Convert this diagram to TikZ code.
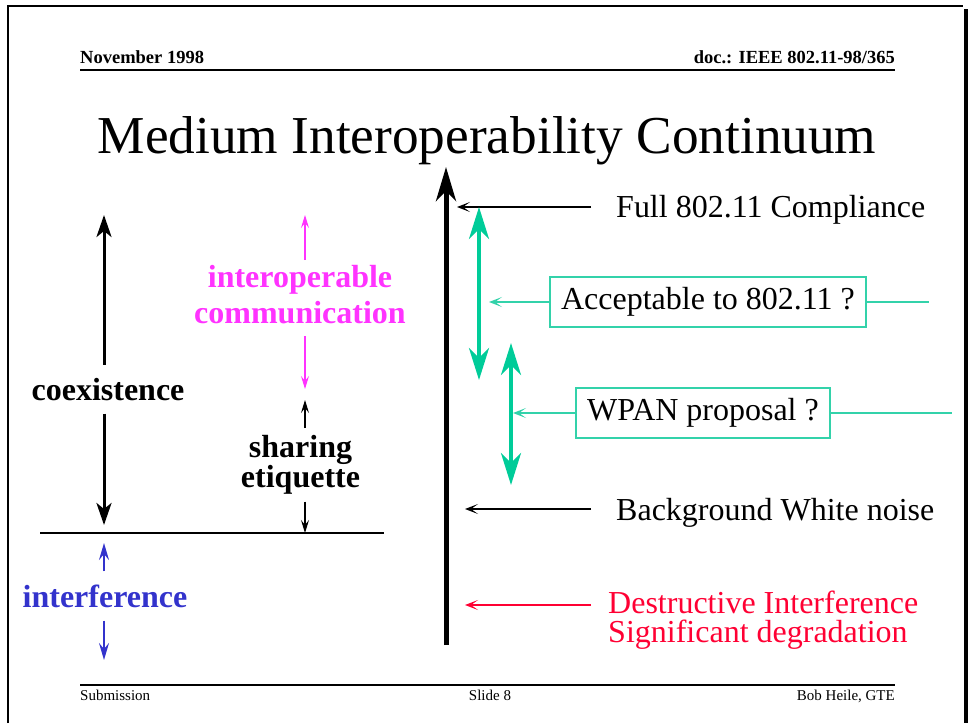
\documentclass[tikz,border=0pt]{standalone}
\usepackage{fontspec}
\setmainfont{Liberation Serif}
\usetikzlibrary{arrows.meta,positioning}
\definecolor{ieeegreen}{RGB}{0,204,153}
\definecolor{boxgreen}{RGB}{51,210,170}
\definecolor{ieeemagenta}{RGB}{255,51,255}
\definecolor{ieeeblue}{RGB}{51,51,204}
\definecolor{ieeered}{RGB}{255,0,51}
\tikzstyle{header} = [font=\bfseries\fontsize{18.5}{20}\selectfont, inner sep=0pt]
\tikzstyle{footer} = [font=\fontsize{15}{17}\selectfont, inner sep=0pt]
\tikzstyle{textlabel} = [font=\fontsize{32}{36}\selectfont, inner sep=0pt]
\tikzstyle{boldlabel} = [font=\bfseries\fontsize{32}{36}\selectfont, align=center, inner xsep=0pt]
\tikzstyle{query} = [rectangle, draw=boxgreen, line width=1.5pt, font=\fontsize{32}{36}\selectfont,
    inner xsep=11pt, minimum height=50pt]
\tikzstyle{mainaxis} = [draw, line width=5pt, -{Stealth[length=34pt,width=20pt,inset=10pt]}]
\tikzstyle{greenrange} = [draw=ieeegreen, line width=4pt,
    {Stealth[length=32pt,width=20pt,inset=10pt]}-{Stealth[length=32pt,width=20pt,inset=10pt]}]
\tikzstyle{pointer} = [draw, line width=1.3pt, -{Stealth[length=13pt,width=10pt,inset=7pt]}]
\tikzstyle{coexarrow} = [draw, line width=3pt, -{Stealth[length=22pt,width=15pt,inset=6pt]}]
\tikzstyle{thinarrow} = [draw, line width=1.2pt, -{Stealth[length=13pt,width=8pt,inset=5pt]}]
\tikzstyle{bluearrow} = [draw=ieeeblue, line width=2pt, -{Stealth[length=17pt,width=10pt,inset=6pt]}]

\begin{document}
\begin{tikzpicture}[x=1pt, y=-1pt]
      \useasboundingbox (0,0) rectangle (969,723);
      % slide frame
      \draw [line width=2.5pt] (8,723) -- (8,6) -- (963,6);
      \draw [line width=4pt] (965.5,9) -- (965.5,723);
      % header and title
      \node [header, anchor=base west] (date) at (80,63) {November 1998};
      \node [header, anchor=base east] (docnum) at (895,63) {doc.: IEEE 802.11-98/365};
      \draw [line width=2pt] (80,70) -- (895,70);
      \node [font=\fontsize{53.3}{60}\selectfont, inner sep=0pt, anchor=base] (title) at (487,153) {Medium Interoperability Continuum};
      % continuum
      \coordinate (axisbot) at (446,645);
      \coordinate (axistop) at (446,167);
      \node [textlabel, anchor=base west] (full) at (616,217) {Full 802.11 Compliance};
      \node [query] (accept) at (708,302) {Acceptable to 802.11 ?};
      \node [query] (wpan) at (703,413) {WPAN proposal ?};
      \node [textlabel, anchor=base west] (noise) at (616,520) {Background White noise};
      \node [textlabel, text=ieeered, align=left, font=\fontsize{32}{28.5}\selectfont, anchor=north west] (destruct) at (608,591)
            {Destructive Interference\\Significant degradation};
      \coordinate (fulltip) at (457,207);
      \coordinate (accepttip) at (489,302);
      \coordinate (acceptend) at (929,302);
      \coordinate (wpantip) at (513,413);
      \coordinate (wpanend) at (952,413);
      \coordinate (noisetip) at (465,509);
      \coordinate (destructtip) at (465,605);
      \coordinate (acctop) at (479,207);
      \coordinate (accbot) at (479,380);
      \coordinate (wpantop) at (511,343);
      \coordinate (wpanbot) at (511,485);
      % left side
      \coordinate (coextop) at (104,215);
      \coordinate (coexbot) at (104,525);
      \coordinate (divleft) at (40,533);
      \coordinate (divright) at (384,533);
      \coordinate (magtop) at (305,215);
      \coordinate (magbot) at (305,389);
      \coordinate (sharetop) at (305,400);
      \coordinate (sharebot) at (305,533);
      \coordinate (intertop) at (104,543);
      \coordinate (interbot) at (104,660);
      \node [boldlabel, inner ysep=13pt, anchor=base] (coex) at (108,400) {coexistence};
      \node [boldlabel, text=ieeemagenta, inner ysep=5pt, anchor=north] (interop) at (300,260) {interoperable\\communication};
      \node [boldlabel, font=\bfseries\fontsize{32}{28}\selectfont, inner ysep=7pt, anchor=north] (sharing) at (300.5,428) {sharing\\etiquette};
      \node [boldlabel, text=ieeeblue, inner ysep=13pt, anchor=base] (interf) at (105,607) {interference};
      % Draw edges
      \path [mainaxis] (axisbot) -- (axistop);
      \path [pointer, shorten <=25pt] (full.west |- fulltip) -- (fulltip);
      \path [pointer, shorten <=25pt] (noise.west |- noisetip) -- (noisetip);
      \path [pointer, draw=ieeered, shorten <=17pt] (destruct.west |- destructtip) -- (destructtip);
      \path [pointer, draw=boxgreen] (accept) -- (accepttip);
      \path [draw=boxgreen, line width=1.5pt] (accept) -- (acceptend);
      \path [pointer, draw=boxgreen] (wpan) -- (wpantip);
      \path [draw=boxgreen, line width=1.5pt] (wpan) -- (wpanend);
      \path [greenrange] (acctop) -- (accbot);
      \path [greenrange] (wpantop) -- (wpanbot);
      \path [coexarrow] (coex.north -| coextop) -- (coextop);
      \path [coexarrow] (coex.south -| coexbot) -- (coexbot);
      \path [draw, line width=1.5pt] (divleft) -- (divright);
      \path [thinarrow, draw=ieeemagenta] (interop.north -| magtop) -- (magtop);
      \path [thinarrow, draw=ieeemagenta, shorten <=7pt] (interop.south -| magbot) -- (magbot);
      \path [thinarrow] (sharing.north -| sharetop) -- (sharetop);
      \path [thinarrow] (sharing.south -| sharebot) -- (sharebot);
      \path [bluearrow] (interf.north -| intertop) -- (intertop);
      \path [bluearrow] (interf.south -| interbot) -- (interbot);
      % footer
      \draw [line width=1.5pt] (80,685) -- (895,685);
      \node [footer, anchor=base west] (submission) at (80,700) {Submission};
      \node [footer, anchor=base] (slide) at (490,700) {Slide 8};
      \node [footer, anchor=base east] (author) at (895,700) {Bob Heile, GTE};
\end{tikzpicture}
\end{document}
